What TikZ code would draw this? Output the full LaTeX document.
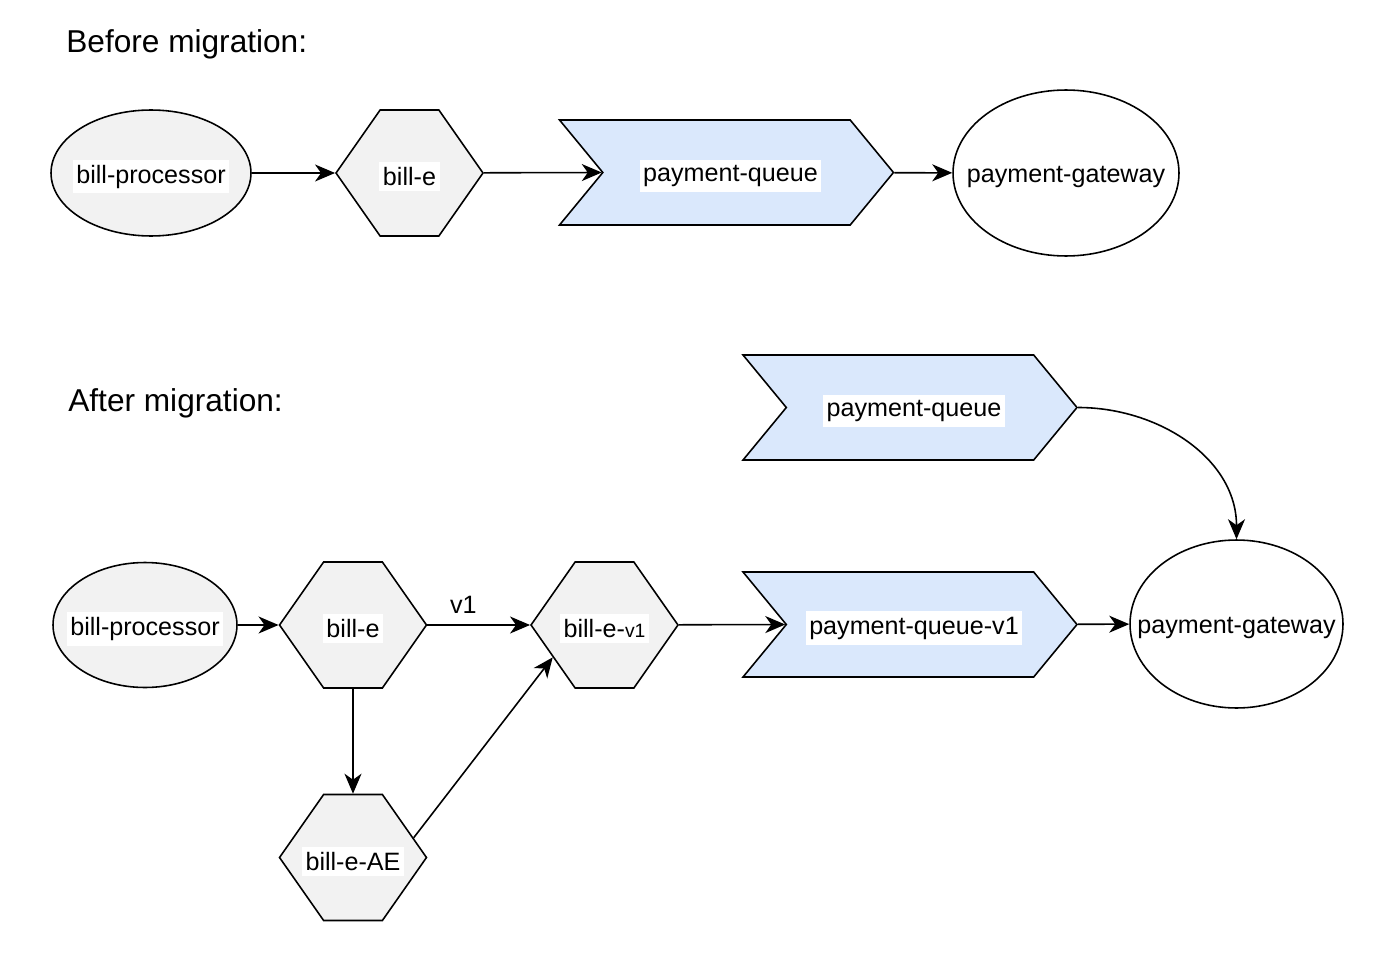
\documentclass[tikz,border=0pt]{standalone}
\usepackage{fontspec}
\setmainfont{Liberation Sans}
\usetikzlibrary{shapes.geometric,shapes.symbols,arrows.meta}
\definecolor{boxgray}{HTML}{F2F2F2}
\definecolor{qblue}{HTML}{DAE8FC}
\tikzset{
	every label/.style={fill=white, inner xsep=2pt, inner ysep=3pt, yshift=-2pt, font=\fontsize{14.3}{17}\selectfont},
	svc/.style={ellipse, draw, fill=boxgray, line width=0.9pt, inner sep=0pt},
	gw/.style={ellipse, draw, fill=white, line width=0.9pt, inner sep=0pt},
	hexa/.style={signal, signal to=west and east, signal pointer angle=110, draw, fill=boxgray, line width=0.9pt, minimum width=2.94cm, minimum height=2.52cm, inner sep=0pt},
	queue/.style={signal, signal from=west, signal to=east, signal pointer angle=101, draw, fill=qblue, line width=0.9pt, minimum width=6.68cm, minimum height=2.1cm, inner sep=0pt},
	link/.style={-{Stealth[length=4mm,width=3.4mm,inset=1.2mm]}, line width=0.9pt},
	title/.style={font=\fontsize{18}{22}\selectfont, anchor=west, inner sep=0pt}
}
\begin{document}
\begin{tikzpicture}[x=0.02cm, y=-0.02cm]
	\useasboundingbox (0,0) rectangle (1392,973);
	% before
	\node[title] (t1) at (66,44) {Before migration:};
	\node[svc, minimum width=4cm, minimum height=2.52cm, label={center:bill-processor}] (bp1) at (151,173) {};
	\node[hexa, label={center:bill-e}] (be1) at (409.5,173) {};
	\node[queue, label={[xshift=0.08cm]center:payment-queue}] (pq1) at (726.5,172.5) {};
	\node[gw, minimum width=4.52cm, minimum height=3.32cm, label={[fill=none]center:payment-gateway}] (pg1) at (1066,173) {};
	\draw[link] (bp1) -- (be1);
	\draw[link] (be1) -- (pq1.west);
	\draw[link] (pq1) -- (pg1);
	% after
	\node[title] (t2) at (68,403) {After migration:};
	\node[queue, label={[xshift=0.08cm]center:payment-queue}] (pq2) at (910,407.5) {};
	\node[svc, minimum width=3.68cm, minimum height=2.5cm, label={center:bill-processor}] (bp2) at (145,625) {};
	\node[hexa, label={center:bill-e}] (be2) at (353,625) {};
	\node[hexa, label={center:bill-e-{\fontsize{11}{13}\selectfont v1}}] (bv) at (604.5,625) {};
	\node[queue, label={[xshift=0.08cm]center:payment-queue-v1}] (pq3) at (910,624.5) {};
	\node[gw, minimum width=4.26cm, minimum height=3.36cm, label={[fill=none]center:payment-gateway}] (pg2) at (1236.5,624) {};
	\node[hexa, label={center:bill-e-AE}] (ae) at (353,857.5) {};
	\draw[link] (bp2) -- (be2);
	\draw[link] (be2) -- node[pos=0.35, above=3pt, font=\fontsize{14.3}{17}\selectfont] {v1} (bv);
	\draw[link] (bv) -- (pq3.west);
	\draw[link] (pq3) -- (pg2);
	\draw[link] (be2) -- (ae);
	\draw[link] (ae.18) -- (bv.212);
	\draw[link] (pq2.east) to[out=0, in=90] (pg2.north);
\end{tikzpicture}
\end{document}
